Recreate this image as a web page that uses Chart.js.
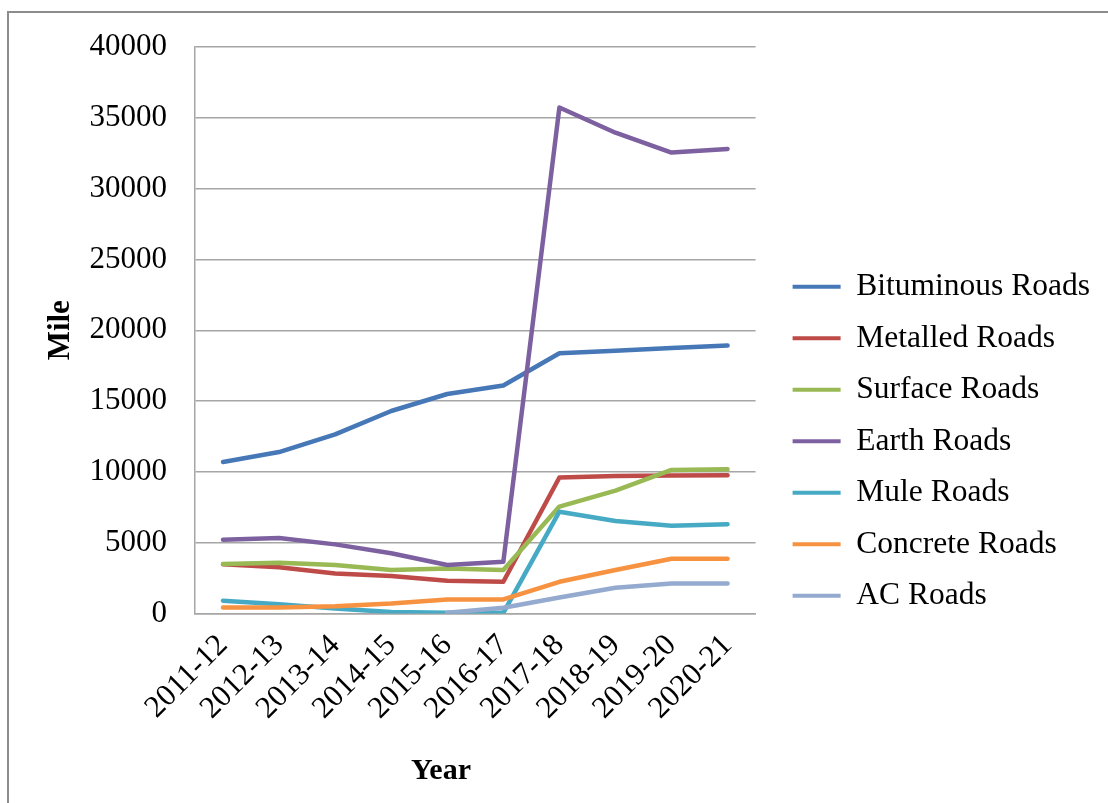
<!DOCTYPE html>
<html>
<head>
<meta charset="utf-8">
<script src="https://cdn.jsdelivr.net/npm/chart.js@4.4.1/dist/chart.umd.min.js"></script>
<style>
  html, body { margin: 0; padding: 0; background: #fff; width: 1108px; height: 803px; overflow: hidden; }
  #frame { position: absolute; left: 7px; top: 11px; width: 1200px; height: 900px; border: 2px solid #8c8c8c; box-sizing: border-box; }
  #c { position: absolute; left: 0; top: 0; }
</style>
</head>
<body>
<div id="frame"></div>
<canvas id="c" width="1108" height="803"></canvas>
<script>
// Road length by surface type (miles), fiscal years
const years = ['2011-12', '2012-13', '2013-14', '2014-15', '2015-16', '2016-17', '2017-18', '2018-19', '2019-20', '2020-21'];

const bituminous = [10700, 11400, 12650, 14300, 15500, 16100, 18380, 18560, 18750, 18920];
const metalled   = [3470, 3260, 2830, 2640, 2310, 2240, 9600, 9700, 9740, 9760];
const surface    = [3490, 3590, 3420, 3070, 3180, 3070, 7550, 8680, 10140, 10190];
const earth      = [5210, 5330, 4880, 4250, 3420, 3660, 35730, 33950, 32550, 32800];
const mule       = [900, 660, 350, 100, 50, 50, 7190, 6530, 6200, 6300];
const concrete   = [420, 420, 520, 710, 990, 990, 2240, 3070, 3870, 3870];
const acRoads    = [null, null, null, null, 50, 400, 1130, 1820, 2120, 2120];

const seriesNames  = ['Bituminous Roads', 'Metalled Roads', 'Surface Roads', 'Earth Roads', 'Mule Roads', 'Concrete Roads', 'AC Roads'];
const seriesValues = [bituminous, metalled, surface, earth, mule, concrete, acRoads];
const seriesColors = ['#4677B6', '#BE4B48', '#98B954', '#7D60A0', '#46AAC5', '#F69240', '#94AACF'];

const yMin = 0, yMax = 40000, yStep = 5000;
const yTitle = 'Mile';
const xTitle = 'Year';

const FONT = '"Liberation Serif", "Times New Roman", serif';
Chart.defaults.font.family = FONT;
Chart.defaults.color = '#000';

const datasets = seriesNames.map((name, i) => ({
  label: name,
  data: seriesValues[i],
  borderColor: seriesColors[i],
  backgroundColor: seriesColors[i],
  borderWidth: 4.5,
  pointRadius: 0,
  tension: 0,
  spanGaps: false,
  borderCapStyle: 'round',
  borderJoinStyle: 'round',
  order: seriesNames.length - i   // later series paint on top
}));

// Bold x-axis title drawn under the rotated category labels
const xTitlePlugin = {
  id: 'xTitle',
  afterDraw(chart) {
    const { ctx, chartArea } = chart;
    ctx.save();
    ctx.font = 'bold 30px ' + FONT;
    ctx.fillStyle = '#000';
    ctx.textAlign = 'center';
    ctx.textBaseline = 'alphabetic';
    ctx.fillText(xTitle, chartArea.left + 246, 779);
    ctx.restore();
  }
};

new Chart(document.getElementById('c'), {
  type: 'line',
  data: { labels: years, datasets },
  plugins: [xTitlePlugin],
  options: {
    responsive: false,
    animation: false,
    devicePixelRatio: 1,
    layout: { padding: { top: 47, left: 0, right: 8, bottom: 0 } },
    plugins: {
      tooltip: { enabled: false },
      legend: {
        position: 'right',
        align: 'start',
        maxWidth: 400,
        title: { display: true, text: '', font: { size: 10, lineHeight: 1 }, padding: { top: 194, bottom: 0 } },
        labels: {
          boxWidth: 48,
          boxHeight: 4,
          padding: 20,
          color: '#000',
          font: { size: 31.5 },
          sort: (a, b) => a.datasetIndex - b.datasetIndex,
          generateLabels(chart) {
            return Chart.defaults.plugins.legend.labels.generateLabels(chart).map(item => {
              item.fillStyle = item.strokeStyle;
              item.lineWidth = 0;
              return item;
            });
          }
        }
      }
    },
    scales: {
      x: {
        type: 'category',
        offset: true,
        grid: { display: false, drawTicks: false },
        border: { display: true, color: '#a6a6a6', width: 1.5 },
        ticks: {
          autoSkip: false,
          maxRotation: 45,
          minRotation: 45,
          padding: 14,
          font: { size: 31 },
          color: '#000'
        },
        afterFit(scale) { scale.height = 803 - 613.5; }
      },
      y: {
        type: 'linear',
        min: yMin,
        max: yMax,
        grid: { color: '#a6a6a6', lineWidth: 1.5, drawTicks: false },
        border: { display: true, color: '#a6a6a6', width: 1.5 },
        ticks: {
          stepSize: yStep,
          padding: 28,
          font: { size: 31 },
          color: '#000',
          callback: v => String(v)
        },
        title: {
          display: true,
          text: yTitle,
          font: { size: 31, weight: 'bold' },
          padding: { top: 42, bottom: 0 },
          color: '#000'
        },
        afterFit(scale) { scale.width = 195; }
      },
      gap: {
        type: 'linear',
        position: 'right',
        display: true,
        grid: { display: false, drawTicks: false },
        border: { display: false },
        ticks: { display: false },
        afterFit(scale) { scale.width = 17; }
      }
    }
  }
});
</script>
</body>
</html>
